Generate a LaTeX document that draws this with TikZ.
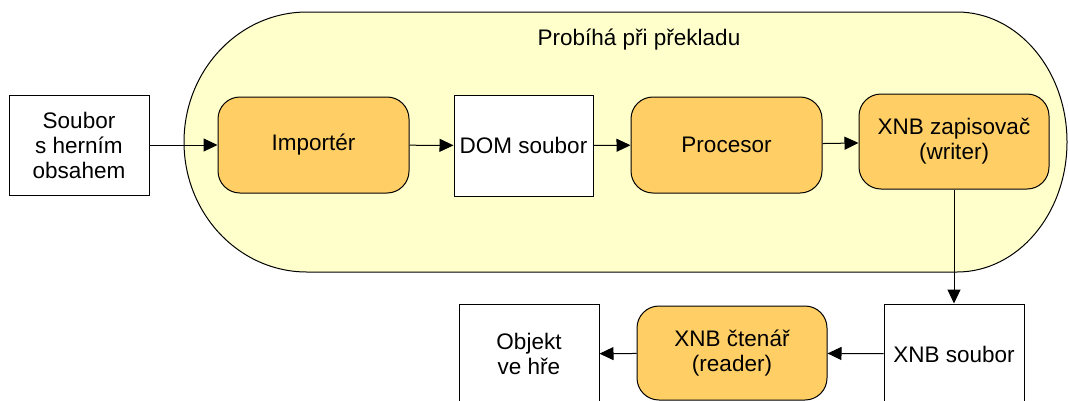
\documentclass[tikz,border=0pt]{standalone}
\usepackage{fontspec}
\setmainfont{Liberation Sans}
\usetikzlibrary{arrows.meta, positioning}

\definecolor{pale}{HTML}{FFFFCC}
\definecolor{orng}{HTML}{FFCF66}

\begin{document}
\begin{tikzpicture}[x=1pt, y=-1pt, line width=1pt,
    font=\fontsize{22.5}{25}\selectfont,
    box/.style={draw, fill=white, align=center, minimum width=140pt, minimum height=100pt, inner sep=0pt},
    proc/.style={draw, fill=orng, rounded corners=22pt, align=center, minimum width=191pt, minimum height=96pt, inner sep=0pt},
    arr/.style={-{Triangle[length=14pt, width=13pt]}}]
    \useasboundingbox (0,0) rectangle (1068,400);

    % compile-time area
    \draw[fill=pale] (307,12) -- (957,12)
        arc[start angle=-90, end angle=90, x radius=110, y radius=130] -- (307,272)
        arc[start angle=90, end angle=270, x radius=123, y radius=130] -- cycle;
    \node (title) at (639,40) {Probíhá při překladu};

    \node (src) [box] at (79,145) {Soubor\\s herním\\obsahem};
    \node (imp) [proc] at (313.5,145) {Importér};
    \node (dom) [box, minimum width=139pt, minimum height=101pt] at (523.5,145.5) {DOM soubor};
    \node (pro) [proc] at (726.5,145) {Procesor};
    \node (wri) [proc, minimum width=190pt, minimum height=95pt] at (954,141.5) {XNB zapisovač\\(writer)};

    \node (xnb) [box] at (954,354) {XNB soubor};
    \node (rea) [proc, minimum width=190pt, minimum height=94pt] at (732,353) {XNB čtenář\\(reader)};
    \node (obj) [box] at (529,354) {Objekt\\ve hře};

    \draw[arr] (src) -- (imp);
    \draw[arr] (imp) -- (dom);
    \draw[arr] (dom) -- (pro);
    \draw[arr] (pro) -- (wri);
    \draw[arr] (wri) -- (xnb);
    \draw[arr] (xnb) -- (rea);
    \draw[arr] (rea) -- (obj);
\end{tikzpicture}
\end{document}
